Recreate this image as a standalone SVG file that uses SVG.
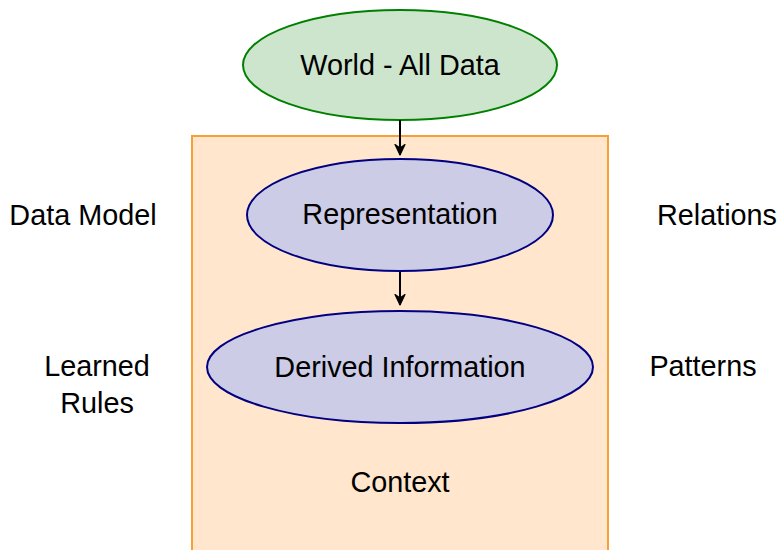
<svg xmlns="http://www.w3.org/2000/svg" width="780" height="550" viewBox="0 0 780 550">
<style>
text{font-family:"Liberation Sans",Arial,sans-serif;font-size:28.8px;fill:#000;text-anchor:middle}
.blue{fill:#ccccE6;stroke:#000080;stroke-width:2}
.edge{stroke:#000;stroke-width:2;fill:none}
</style>
<defs>
<marker id="arr" viewBox="0 0 12 12" refX="11" refY="6" markerWidth="12" markerHeight="12" markerUnits="userSpaceOnUse" orient="auto">
<path d="M0.5,1 L11,6 L0.5,11 L4,6 Z" fill="#000" stroke="#000" stroke-width="1.2" stroke-linejoin="round"/>
</marker>
</defs>
<rect width="780" height="550" fill="#fff"/>
<g id="context">
<rect x="192" y="136" width="416" height="430" fill="#ffe6cc" stroke="#f7a035" stroke-width="2"/>
<text x="400" y="492">Context</text>
</g>
<g id="world">
<ellipse cx="400" cy="65" rx="157" ry="55" fill="#cce5cc" stroke="#008000" stroke-width="2"/>
<text x="400" y="75">World - All Data</text>
</g>
<g id="representation">
<ellipse class="blue" cx="400" cy="215" rx="153" ry="56"/>
<text x="400" y="224">Representation</text>
</g>
<g id="derived">
<ellipse class="blue" cx="400" cy="367" rx="193" ry="56"/>
<text x="400" y="377">Derived Information</text>
</g>
<g id="labels">
<text x="83" y="225">Data Model</text>
<text x="717" y="225">Relations</text>
<text x="97" y="376">Learned</text>
<text x="97" y="413">Rules</text>
<text x="703" y="376">Patterns</text>
</g>
<g id="connectors">
<line class="edge" x1="400" y1="120" x2="400" y2="155" marker-end="url(#arr)"/>
<line class="edge" x1="400" y1="272" x2="400" y2="305" marker-end="url(#arr)"/>
</g>
</svg>
